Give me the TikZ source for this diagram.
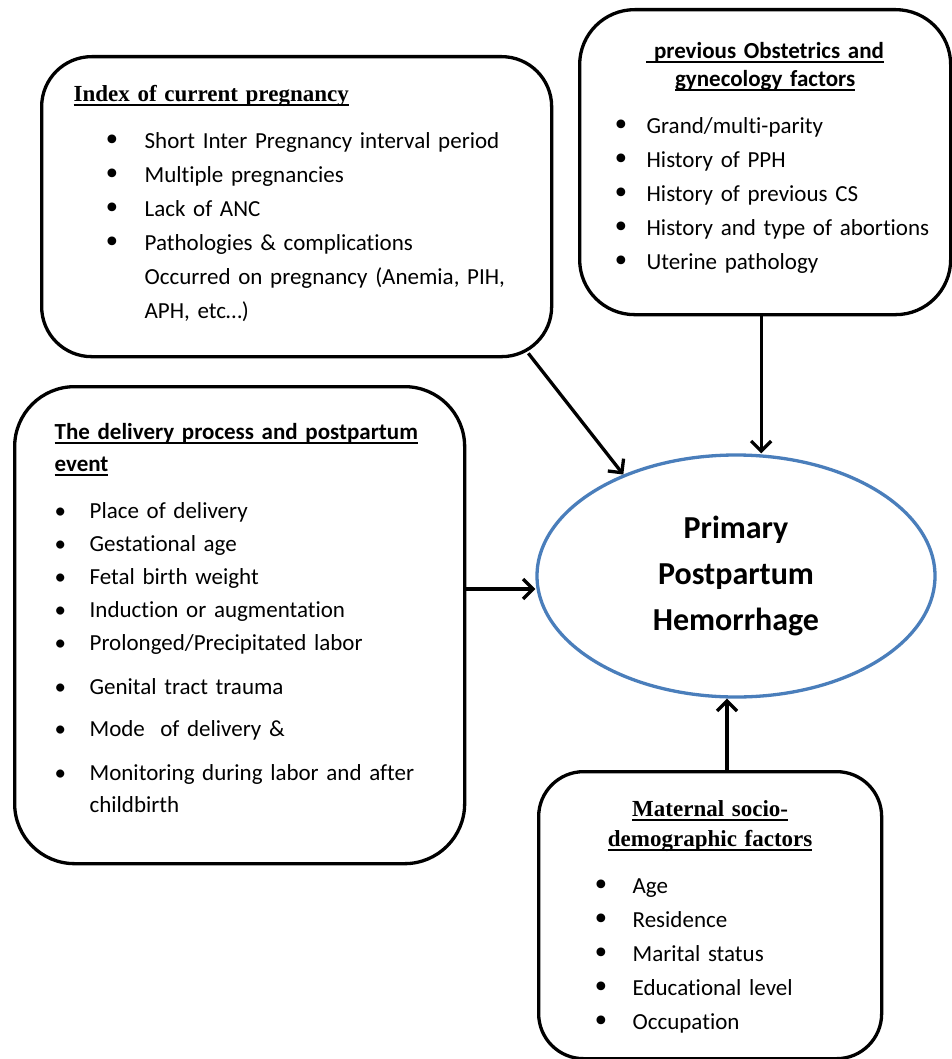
\documentclass[tikz,border=0pt]{standalone}
\usepackage{fontspec}
\setmainfont{Carlito}[Ligatures=CommonOff]
\newfontfamily\timesfont{Liberation Serif}
\newfontfamily\dotfont{DejaVu Sans}
\usetikzlibrary{shapes.geometric}
\usetikzlibrary{arrows.meta}
\definecolor{outcomeblue}{HTML}{4A7EBB}
\newsavebox\headbox
\newcommand{\headline}[1]{\leavevmode\sbox\headbox{#1}\rlap{\rule[-4pt]{\wd\headbox}{1.6pt}}\usebox\headbox}
\newlength\dotindent
\newlength\dotgap
\newcommand{\bul}{\hspace*{\dotindent}\makebox[\dotgap][l]{\raisebox{-2pt}{\dotfont\fontsize{30}{30}\selectfont\textbullet}}}
\newcommand{\sbul}{\hspace*{\dotindent}\makebox[\dotgap][l]{\textbullet}}
\newcommand{\cont}{\hspace*{\dotindent}\hspace*{\dotgap}}

\begin{document}
\begin{tikzpicture}[
    x=1pt, y=-1pt,
    line width=3.3pt,
    factor/.style={
      rectangle,
      draw,
      rounded corners=50pt,
      anchor=north west,
      align=left,
      inner ysep=0pt,
      font=\fontsize{23}{34}\selectfont
    },
    outcome/.style={
      ellipse,
      draw=outcomeblue,
      minimum width=398pt,
      minimum height=242pt,
      align=center,
      font=\fontsize{32}{46}\selectfont\bfseries
    },
    link/.style={-{Straight Barb[length=10pt,width=20pt]}}
]
  \path[use as bounding box, fill=white] (0,0) rectangle (951,1059);

  \node[factor, inner xsep=32pt, text width=446pt, text height=45pt, text depth=255pt,
    execute at begin node={\setlength{\dotindent}{30pt}\setlength{\dotgap}{41pt}}]
    (curpreg) at (40,55) {
    {\timesfont\bfseries\headline{Index of current pregnancy}}
    \\[12.7pt] \bul Short Inter Pregnancy interval period
    \\ \bul Multiple pregnancies
    \\ \bul Lack of ANC
    \\ \bul Pathologies \& complications
    \\ \cont Occurred on pregnancy (Anemia, PIH,
    \\ \cont APH, etc…)
  };

  \node[factor, rounded corners=55pt, inner xsep=20pt, text width=331pt,
    text height=49pt, text depth=256pt,
    execute at begin node={\setlength{\dotindent}{13pt}\setlength{\dotgap}{34pt}}]
    (obsgyn) at (578,8) {
    \makebox[\linewidth]{\bfseries\headline{\ previous Obstetrics and}}
    \\[-6pt] \makebox[\linewidth]{\bfseries\headline{gynecology factors}}
    \\[12.7pt] \bul Grand/multi-parity
    \\ \bul History of PPH
    \\ \bul History of previous CS
    \\ \bul History and type of abortions
    \\ \bul Uterine pathology
  };

  \node[factor, rounded corners=60pt, inner xsep=40pt, text width=370pt,
    text height=53pt, text depth=424pt, font=\fontsize{23}{33}\selectfont,
    execute at begin node={\setlength{\dotindent}{0pt}\setlength{\dotgap}{35pt}}]
    (delivery) at (13,385) {
    {\bfseries\headline{The delivery process and postpartum}}
    \\[-1pt] {\bfseries\headline{event}}
    \\[13.7pt] \sbul Place of delivery
    \\ \sbul Gestational age
    \\ \sbul Fetal birth weight
    \\ \sbul Induction or augmentation
    \\ \sbul Prolonged/Precipitated labor
    \\[10.7pt] \sbul Genital tract trauma
    \\[9.3pt] \sbul Mode\ \ of delivery \&
    \\[11pt] \sbul Monitoring during labor and after
    \\[-1pt] \cont childbirth
  };

  \node[factor, rounded corners=45pt, inner xsep=20pt, text width=303pt,
    text height=45pt, text depth=242pt,
    execute at begin node={\setlength{\dotindent}{34pt}\setlength{\dotgap}{40pt}}]
    (matsoc) at (537,770) {
    \makebox[\linewidth]{\timesfont\bfseries\headline{Maternal socio-}}
    \\[-4pt] \makebox[\linewidth]{\timesfont\bfseries\headline{demographic factors}}
    \\[12.7pt] \bul Age
    \\ \bul Residence
    \\ \bul Marital status
    \\ \bul Educational level
    \\ \bul Occupation
  };

  \node[outcome] (pph) at (736,576) {Primary\\Postpartum\\Hemorrhage};

  % factor groups pointing into the outcome
  \draw[link] ([xshift=-25pt,yshift=5pt]curpreg.south east) -- (pph.138);

  \coordinate (obsdrop) at ([xshift=-4pt]obsgyn.south);
  \draw[link] (obsdrop) -- (obsdrop |- pph.north);

  \coordinate (delin) at ([yshift=-13pt]pph.west);
  \draw[link] (delivery.east |- delin) -- (delin);

  \coordinate (matin) at ([xshift=-9pt]pph.south);
  \draw[link] (matsoc.north -| matin) -- (matin);

\end{tikzpicture}
\end{document}
